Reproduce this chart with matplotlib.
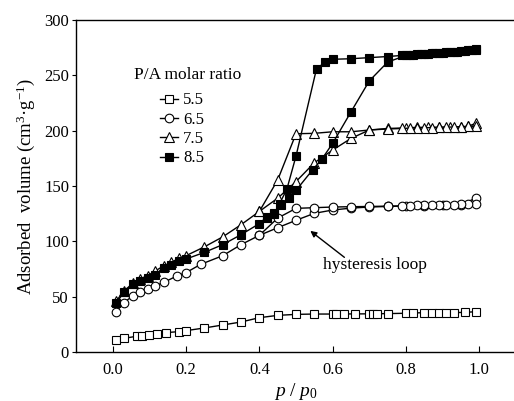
import matplotlib
matplotlib.use("Agg")
import matplotlib.pyplot as plt

plt.rcParams['font.family'] = ['Liberation Serif', 'DejaVu Serif']
plt.rcParams['mathtext.fontset'] = 'custom'
plt.rcParams['mathtext.it'] = 'Liberation Serif:italic'
plt.rcParams['mathtext.rm'] = 'Liberation Serif'

# P/A = 5.5 (open squares)
x55 = [0.01, 0.03, 0.065, 0.08, 0.10, 0.12, 0.145, 0.18, 0.20, 0.25, 0.30, 0.35, 0.40, 0.45,
       0.50, 0.55, 0.60, 0.61, 0.63, 0.66, 0.70, 0.71, 0.72, 0.75, 0.80, 0.82, 0.85, 0.87,
       0.89, 0.91, 0.93, 0.96, 0.99]
y55 = [10.8, 12.3, 14.2, 14.8, 15.7, 16.6, 17.5, 18.4, 19.3, 21.7, 24.4, 27.1, 31.0, 33.1,
       34.0, 34.3, 34.3, 34.3, 34.4, 34.4, 34.5, 34.6, 34.6, 34.7, 35.0, 35.3, 35.5, 35.5,
       35.5, 35.6, 35.6, 35.8, 36.4]

# P/A = 6.5 (open circles)
x65_ads = [0.01, 0.03, 0.055, 0.075, 0.095, 0.115, 0.14, 0.175, 0.20, 0.24, 0.30, 0.35,
           0.40, 0.45, 0.50, 0.55, 0.60, 0.65, 0.70, 0.75, 0.80, 0.85, 0.90, 0.95, 0.99]
y65_ads = [36.4, 44.6, 50.6, 54.5, 56.6, 59.6, 63.0, 68.7, 71.7, 79.2, 87.0, 97.0,
           105.4, 112.3, 119.0, 125.3, 128.3, 130.0, 131.0, 131.5, 132.0, 132.2, 132.8, 133.0, 139.0]
x65_des = [0.99, 0.97, 0.95, 0.93, 0.91, 0.89, 0.87, 0.85, 0.83, 0.81, 0.79, 0.75, 0.70,
           0.65, 0.60, 0.55, 0.50, 0.45, 0.40]
y65_des = [133.7, 133.5, 133.3, 133.2, 133.0, 132.9, 132.8, 132.6, 132.4, 132.2, 132.0, 131.8,
           131.5, 131.3, 131.0, 130.4, 129.8, 121.0, 105.4]

# P/A = 7.5 (open triangles)
x75_ads = [0.01, 0.03, 0.055, 0.075, 0.095, 0.115, 0.14, 0.16, 0.18, 0.20, 0.25, 0.30, 0.35,
           0.40, 0.45, 0.50, 0.55, 0.60, 0.65, 0.70, 0.75, 0.80, 0.83, 0.86, 0.89, 0.92,
           0.95, 0.97, 0.99]
y75_ads = [46, 55, 62, 66, 69, 73, 78, 81, 84.6, 87, 95, 104, 115, 127, 139, 154, 171, 182.5,
           193, 200.6, 202, 202.5, 203, 203, 203, 203.3, 203.5, 204, 206.6]
x75_des = [0.99, 0.97, 0.95, 0.93, 0.91, 0.89, 0.87, 0.85, 0.83, 0.81, 0.79, 0.75, 0.70,
           0.65, 0.60, 0.55, 0.50, 0.45, 0.40]
y75_des = [204, 203.8, 203.5, 203.3, 203.2, 203, 202.8, 202.6, 202.5, 202.3, 202, 201.5,
           200.6, 199, 199, 197.6, 197.2, 155.4, 127]

# P/A = 8.5 (filled squares)
x85_ads = [0.01, 0.03, 0.055, 0.075, 0.095, 0.115, 0.14, 0.16, 0.18, 0.20, 0.25, 0.30, 0.35,
           0.40, 0.42, 0.44, 0.46, 0.48, 0.50, 0.545, 0.57, 0.60, 0.65, 0.70, 0.75, 0.80,
           0.82, 0.84, 0.86, 0.88, 0.90, 0.92, 0.94, 0.96, 0.98, 0.99]
y85_ads = [44, 54, 61, 64, 67, 70, 76, 79, 82, 84, 90, 97, 106, 116, 122, 126, 133, 139,
           146, 164.5, 174, 188.6, 217, 245, 262, 268, 268.5, 269, 269.5, 270, 270.5, 271,
           271.5, 272, 273, 273.5]
x85_des = [0.99, 0.97, 0.95, 0.93, 0.91, 0.89, 0.87, 0.85, 0.83, 0.81, 0.79, 0.75, 0.70,
           0.65, 0.60, 0.58, 0.556, 0.50, 0.475, 0.455, 0.44, 0.42]
y85_des = [273, 272.5, 272, 271.5, 271, 270.5, 270, 269.5, 269, 268.5, 268, 267, 266,
           265, 264.5, 262, 256, 177, 147, 134, 125, 121]

legend_labels = ['5.5', '6.5', '7.5', '8.5']
legend_title = 'P/A molar ratio'

fig = plt.figure(figsize=(5.14, 4.01), dpi=100)
ax = fig.add_axes([76/514, 1-352/401, (516-76)/514, (352-20)/401])

ms = 6.2
kw = dict(color='black', lw=1.0, markeredgewidth=0.8)
l1, = ax.plot(x55, y55, marker='s', mfc='white', ms=ms, label=legend_labels[0], **kw)
l2, = ax.plot(x65_ads, y65_ads, marker='o', mfc='white', ms=ms, label=legend_labels[1], **kw)
ax.plot(x65_des, y65_des, marker='o', mfc='white', ms=ms, **kw)
l3, = ax.plot(x75_ads, y75_ads, marker='^', mfc='white', ms=ms+0.8, label=legend_labels[2], **kw)
ax.plot(x75_des, y75_des, marker='^', mfc='white', ms=ms+0.8, **kw)
l4, = ax.plot(x85_ads, y85_ads, marker='s', mfc='black', ms=ms, label=legend_labels[3], **kw)
ax.plot(x85_des, y85_des, marker='s', mfc='black', ms=ms, **kw)

ax.set_xlim(-0.1, 1.1)
ax.set_ylim(0, 300)
ax.set_xticks([0.0, 0.2, 0.4, 0.6, 0.8, 1.0])
ax.set_xticklabels(['0.0', '0.2', '0.4', '0.6', '0.8', '1.0'])
ax.set_yticks([0, 50, 100, 150, 200, 250, 300])
ax.tick_params(axis='x', direction='in', length=4, labelsize=12, pad=7)
ax.tick_params(axis='y', direction='out', length=3, labelsize=12, pad=2)
ax.spines['right'].set_visible(False)
for s in ['left', 'bottom', 'top']:
    ax.spines[s].set_linewidth(1.0)

ax.set_xlabel(r'$p\ /\ p_0$', fontsize=14, labelpad=2)
ax.set_ylabel('Adsorbed  volume (cm$^3$·g$^{-1}$)', fontsize=13.5, labelpad=5)

ax.text(0.059, 250, legend_title, fontsize=12.5, ha='left', va='center')
ax.legend(handles=[l1, l2, l3, l4], loc='upper left', bbox_to_anchor=(0.172, 0.807),
          frameon=False, fontsize=12, handlelength=1.1, handletextpad=0.3,
          labelspacing=0.2, borderpad=0)

ax.annotate('', xy=(0.533, 111), xytext=(0.638, 84),
            arrowprops=dict(arrowstyle='-|>', color='black', lw=1.0, mutation_scale=9))
ax.text(0.573, 79, 'hysteresis loop', fontsize=12.5, ha='left', va='center')

fig.savefig('out.png', dpi=100)
